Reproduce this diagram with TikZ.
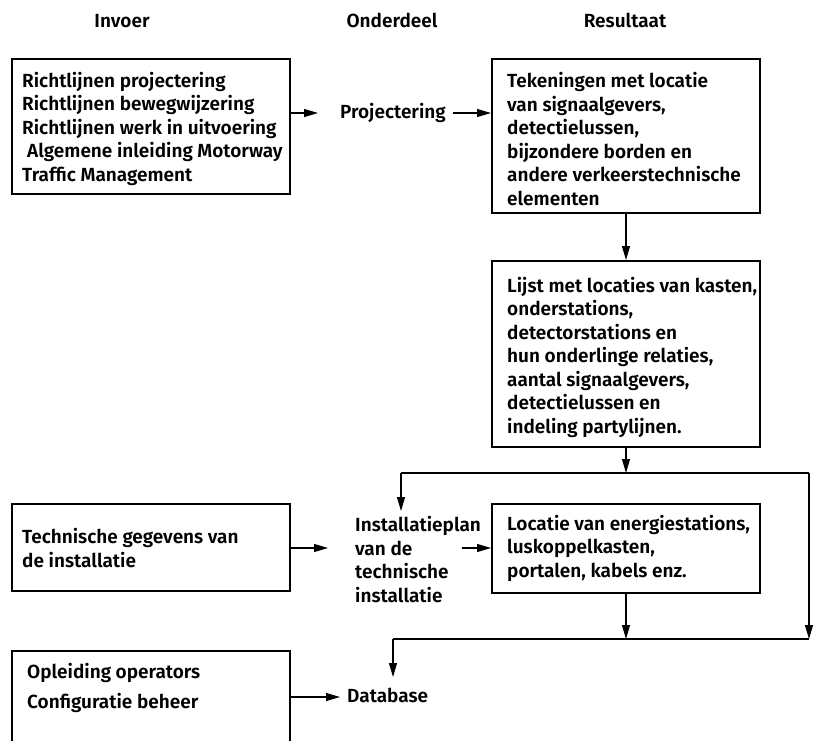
\documentclass[tikz,border=0pt]{standalone}
\usepackage{fontspec}
\setmainfont{Fira Sans}[UprightFont=* SemiBold, BoldFont=* Bold]
\usetikzlibrary{arrows.meta}
\begin{document}
\begin{tikzpicture}[x=1pt,y=-1pt,
  box/.style={draw, line width=2pt, inner sep=0pt},
  txt/.style={anchor=base west, inner sep=0pt, align=left, font=\fontsize{19}{23.5}\selectfont},
  head/.style={anchor=base, inner sep=0pt, font=\fontsize{19}{23.5}\selectfont},
  conn/.style={line width=1.1pt, -{Triangle[length=14pt,width=8pt]}},
  plainline/.style={line width=1.1pt}]
\clip (0,0) rectangle (839,740);
\fill[white] (0,0) rectangle (839,740);
% headers
\node[head] (hInv) at (122,27) {Invoer};
\node[head] (hOnd) at (392,27) {Onderdeel};
\node[head] (hRes) at (625,27) {Resultaat};
% boxes
\node[box, minimum width=278pt, minimum height=135pt] (bIn1) at (151,126.5) {};
\node[box, minimum width=268pt, minimum height=154pt] (bRes1) at (626,136) {};
\node[box, minimum width=268pt, minimum height=186pt] (bRes2) at (626,354) {};
\node[box, minimum width=268pt, minimum height=89pt] (bRes3) at (626,548.5) {};
\node[box, minimum width=278pt, minimum height=87pt] (bTech) at (151,547.5) {};
\node[box, minimum width=278pt, minimum height=110pt] (bOpl) at (151,706) {};
% texts (anchor = baseline of last line)
\node[txt] (tIn1) at (22,181) {Richtlijnen projectering\\Richtlijnen bewegwijzering\\Richtlijnen werk in uitvoering\\\hspace*{5pt}Algemene inleiding Motorway\\Traffic Management};
\node[txt] (proj) at (340,118) {Projectering};
\node[txt] (tRes1) at (507,205) {Tekeningen met locatie\\van signaalgevers,\\detectielussen,\\bijzondere borden en\\andere verkeerstechnische\\elementen};
\node[txt] (tRes2) at (507,433) {Lijst met locaties van kasten,\\onderstations,\\detectorstations en\\hun onderlinge relaties,\\aantal signaalgevers,\\detectielussen en\\indeling partylijnen.};
\node[txt] (plan) at (355,602) {Installatieplan\\van de\\technische\\installatie};
\node[txt] (tRes3) at (507,577) {Locatie van energiestations,\\luskoppelkasten,\\portalen, kabels enz.};
\node[txt] (tTech) at (22,567) {Technische gegevens van\\de installatie};
\node[txt] (tOpl1) at (27,678) {Opleiding operators};
\node[txt] (tOpl2) at (27,708) {Configuratie beheer};
\node[txt] (db) at (347,702) {Database};
% connector coordinates
\coordinate (projIn) at (318,113);
\coordinate (projOut) at (453,113);
\coordinate (planIn2) at (328,548);
\coordinate (planOut) at (462,548);
\coordinate (dbIn2) at (340,697);
\coordinate (split) at (626,473);
\coordinate (splitL) at (401,473);
\coordinate (splitR) at (809,473);
\coordinate (merge) at (626,639);
\coordinate (mergeL) at (393,639);
\coordinate (mergeR) at (809,639);
\coordinate (planIn) at (401,511);
\coordinate (dbIn) at (393,677);
% connectors
\draw[conn] (bIn1.east |- projIn) -- (projIn);
\draw[conn] (projOut) -- (bRes1.west |- projOut);
\draw[conn] (bRes1.south) -- (bRes2.north);
\draw[conn] (bRes2.south) -- (split);
\draw[plainline] (splitL) -- (splitR);
\draw[conn] (splitL) -- (planIn);
\draw[conn] (splitR) -- (mergeR);
\draw[conn] (bTech.east |- planIn2) -- (planIn2);
\draw[conn] (planOut) -- (bRes3.west |- planOut);
\draw[conn] (bRes3.south) -- (merge);
\draw[plainline] (mergeL) -- (mergeR);
\draw[conn] (mergeL) -- (dbIn);
\draw[conn] (bOpl.east |- dbIn2) -- (dbIn2);
\end{tikzpicture}
\end{document}
